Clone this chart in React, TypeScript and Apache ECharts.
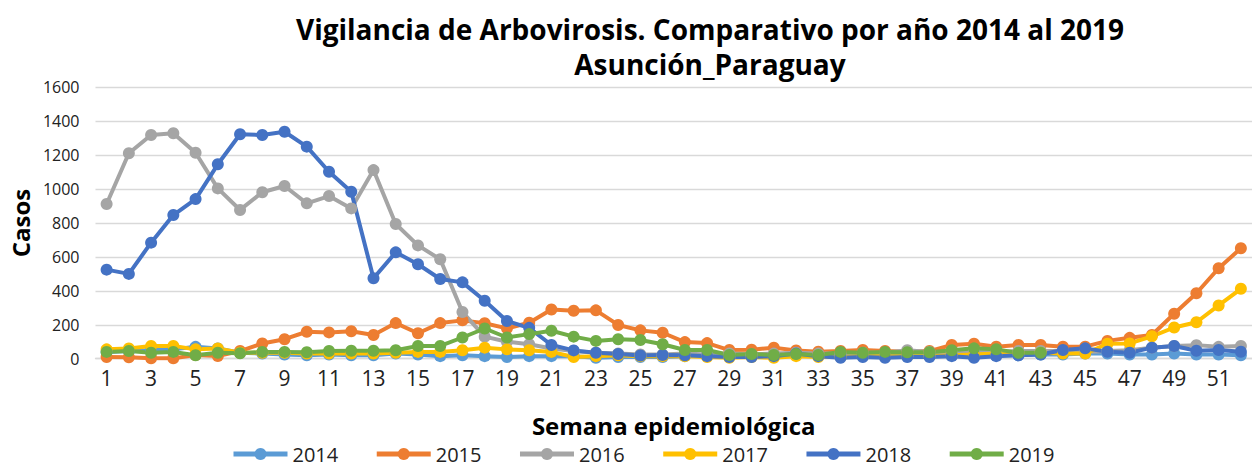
import React, { useEffect, useRef } from "react";
import * as echarts from "echarts";

const weeks = [
  "1","2","3","4","5","6","7","8","9","10","11","12","13","14","15","16","17","18","19","20",
  "21","22","23","24","25","26","27","28","29","30","31","32","33","34","35","36","37","38","39","40",
  "41","42","43","44","45","46","47","48","49","50","51","52",
];

const y2014 = [40,45,50,55,70,60,35,30,25,20, 25,20,20,30,25,15,20,15,10,15, 15,15,5,10,10,10,15,20,15,20, 20,20,15,20,15,20,20,20,25,25, 20,20,25,25,30,30,25,25,30,25, 25,20];
const y2015 = [10,8,2,2,22,16,45,90,115,159, 155,162,140,210,150,210,226,209,179,212, 290,283,285,199,167,153,98,92,51,53, 65,49,41,45,51,45,41,45,81,88, 71,81,81,71,71,105,123,140,265,386, 533,651];
const y2016 = [912,1211,1319,1329,1214,1004,877,981,1018,916, 959,886,1112,794,668,586,275,130,100,85, 60,45,35,30,25,25,30,25,30,25, 30,35,30,30,35,35,50,40,40,45, 40,45,45,45,40,45,50,65,75,80, 70,75];
const y2017 = [55,60,75,75,55,60,35,35,35,30, 30,30,30,35,40,40,50,65,55,50, 40,10,15,20,15,15,15,10,5,10, 5,15,10,10,15,15,15,15,20,25, 30,30,35,30,30,88,90,132,184,215, 314,412];
const y2018 = [525,500,684,847,941,1146,1323,1319,1338,1250, 1102,984,474,627,557,470,450,342,222,182, 81,49,35,28,19,22,20,15,10,10, 15,30,15,5,10,5,10,10,15,5, 15,20,25,51,61,41,35,65,75,47, 51,41];
const y2019 = [40,45,35,40,20,35,32,40,40,38, 45,47,47,50,75,75,125,178,125,145, 165,130,105,115,110,85,51,51,22,28, 22,28,22,40,35,40,38,38,50,61, 55,35,35,null,null,null,null,null,null,null, null,null];

const seriesNames = ["2014", "2015", "2016", "2017", "2018", "2019"];
const seriesData = [y2014, y2015, y2016, y2017, y2018, y2019];
const colors = ["#5B9BD5", "#ED7D31", "#A5A5A5", "#FFC000", "#4472C4", "#70AD47"];

const titleLines = ["Vigilancia de Arbovirosis. Comparativo por año 2014 al 2019", "Asunción_Paraguay"];
const yTicks = { min: 0, max: 1600, interval: 200 };

const FONT = "'Open Sans', 'Noto Sans', sans-serif";

export default function App() {
  const ref = useRef<HTMLDivElement>(null);
  useEffect(() => {
    document.body.style.margin = "0";
    if (!ref.current) return;
    const chart = echarts.init(ref.current, null, { renderer: "svg" });
    chart.setOption({
      animation: false,
      backgroundColor: "#ffffff",
      title: {
        text: titleLines.join("\n"),
        left: 710,
        top: 12,
        padding: 0,
        textAlign: "center",
        textStyle: { fontFamily: FONT, fontSize: 28, lineHeight: 34.5, fontWeight: "bold", color: "#000" },
      },
      legend: {
        data: seriesNames,
        left: 231,
        top: 444,
        padding: 0,
        itemWidth: 54,
        itemHeight: 15,
        itemGap: 36,
        lineStyle: { width: 5 },
        textStyle: { fontFamily: FONT, fontSize: 20, lineHeight: 20, color: "#222" },
      },
      grid: { left: 88, top: 87.3, width: 1167.4, height: 271.4, containLabel: false },
      xAxis: {
        type: "category",
        data: weeks,
        boundaryGap: true,
        name: "Semana epidemiológica",
        nameLocation: "middle",
        nameGap: 55,
        nameTextStyle: { fontFamily: FONT, fontSize: 24, lineHeight: 24, fontWeight: "bold", color: "#000" },
        axisTick: { show: false },
        axisLine: { lineStyle: { color: "#D9D9D9", width: 1.3 } },
        axisLabel: { interval: 1, fontFamily: FONT, fontSize: 21, color: "#222", margin: 9 },
      },
      yAxis: {
        type: "value",
        min: yTicks.min,
        max: yTicks.max,
        interval: yTicks.interval,
        name: "Casos",
        nameLocation: "middle",
        nameGap: 56,
        nameTextStyle: { fontFamily: FONT, fontSize: 24, fontWeight: "bold", color: "#000" },
        axisLine: { show: false },
        axisTick: { show: false },
        axisLabel: {
          fontFamily: FONT,
          fontSize: 16,
          color: "#222",
          margin: 16,
          formatter: (v: number) => String(v),
        },
        splitLine: { lineStyle: { color: "#D9D9D9", width: 1.3 } },
      },
      series: seriesNames.map((name, i) => ({
        name,
        type: "line",
        data: seriesData[i],
        symbol: "circle",
        symbolSize: 12,
        connectNulls: false,
        color: colors[i],
        lineStyle: { width: 4, color: colors[i] },
        itemStyle: { color: colors[i] },
        emphasis: { disabled: true },
      })),
    });
    return () => chart.dispose();
  }, []);
  return <div ref={ref} style={{ position: "relative", width: 1252, height: 468, overflow: "hidden" }} />;
}
